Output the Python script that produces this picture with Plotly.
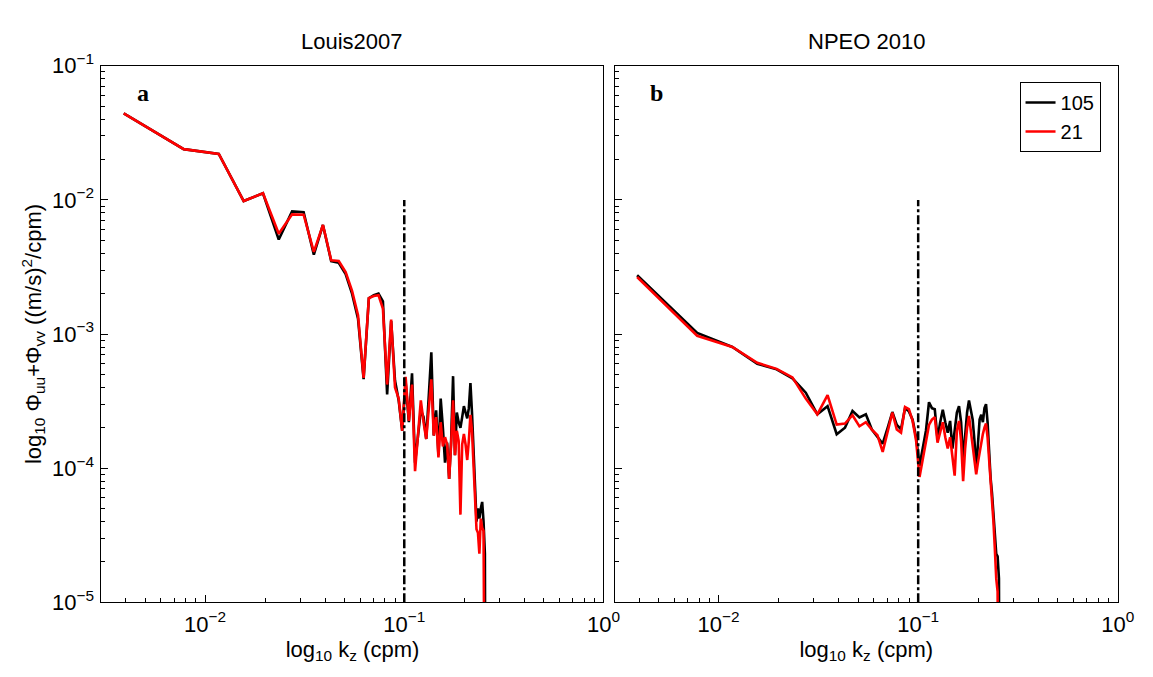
import numpy as np
import plotly.graph_objects as go

# ---------------- data ----------------
dk = 1.0 / 256.0                      # wavenumber bin width (cpm)
kz = [n * dk for n in range(1, 67)]   # wavenumber bins (cpm)

louis_105 = [4.42e-2, 2.39e-2, 2.20e-2, 9.8e-3, 1.12e-2, 5.07e-3, 8.2e-3, 8.1e-3, 3.9e-3, 6.5e-3,
             3.5e-3, 3.4e-3, 2.8e-3, 2.0e-3, 1.30e-3, 4.6e-4, 1.85e-3, 1.95e-3, 2.0e-3, 1.75e-3,
             3.55e-4, 1.25e-3, 4.5e-4, 3.2e-4, 1.9e-4, 4.4e-4, 2.2e-4, 5.1e-4, 1.1e-4, 1.8e-4,
             2.7e-4, 2.4e-4, 1.65e-4, 3.5e-4, 7.3e-4, 1.75e-4, 2.7e-4, 1.25e-4, 3.3e-4, 2.0e-4,
             1.1e-4, 1.55e-4, 8.3e-5, 1.6e-4, 4.85e-4, 1.25e-4, 2.6e-4, 2.2e-4, 2.0e-4, 2.4e-4,
             2.9e-4, 2.6e-4, 2.35e-4, 2.8e-4, 4.3e-4, 2.6e-4, 1.4e-4, 7.0e-5, 4.0e-5, 5.0e-5,
             4.2e-5, 5.0e-5, 5.6e-5, 4.0e-5, 2.3e-5, 1e-8]
louis_21 = [4.42e-2, 2.39e-2, 2.20e-2, 9.8e-3, 1.12e-2, 5.6e-3, 7.8e-3, 7.75e-3, 4.1e-3, 6.5e-3,
            3.55e-3, 3.5e-3, 2.9e-3, 2.1e-3, 1.38e-3, 4.7e-4, 1.85e-3, 1.92e-3, 1.95e-3, 1.55e-3,
            4.2e-4, 1.28e-3, 4.0e-4, 3.3e-4, 1.9e-4, 4.8e-4, 2.25e-4, 4.2e-4, 9.5e-5, 1.8e-4,
            3.2e-4, 2.2e-4, 1.65e-4, 2.8e-4, 4.6e-4, 1.75e-4, 2.4e-4, 1.2e-4, 2.2e-4, 1.45e-4,
            1.7e-4, 1.5e-4, 8.3e-5, 1.5e-4, 3.2e-4, 1.25e-4, 1.9e-4, 1.6e-4, 4.5e-5, 1.5e-4,
            1.8e-4, 1.5e-4, 1.15e-4, 1.6e-4, 2.5e-4, 1.9e-4, 1.1e-4, 6.5e-5, 3.5e-5, 3.3e-5,
            2.3e-5, 4.2e-5, 3.6e-5, 3.4e-5, 1e-8, 1e-8]

npeo_105 = [2.74e-3, 1.02e-3, 8.0e-4, 6.0e-4, 5.45e-4, 4.67e-4, 3.65e-4, 2.52e-4, 2.9e-4, 1.79e-4,
            2.0e-4, 2.67e-4, 2.39e-4, 2.52e-4, 1.94e-4, 1.72e-4, 1.52e-4, 2.0e-4, 2.62e-4, 2.1e-4,
            1.95e-4, 2.8e-4, 2.65e-4, 2.3e-4, 1.7e-4, 1.04e-4, 1.4e-4, 1.9e-4, 3.1e-4, 2.8e-4,
            2.75e-4, 1.65e-4, 2.2e-4, 2.72e-4, 2.2e-4, 1.84e-4, 2.25e-4, 1.4e-4, 1.9e-4, 2.6e-4,
            2.9e-4, 2.2e-4, 1.15e-4, 1.8e-4, 2.6e-4, 3.2e-4, 2.6e-4, 2.3e-4, 1.6e-4, 1.0e-4,
            1.5e-4, 2.3e-4, 2.5e-4, 2.2e-4, 2.8e-4, 3.0e-4, 2.2e-4, 1.3e-4, 8.5e-5, 6.5e-5,
            4.5e-5, 3.3e-5, 2.3e-5, 2.2e-5, 1.5e-5, 1e-8]
npeo_21 = [2.66e-3, 9.7e-4, 8.0e-4, 6.1e-4, 5.5e-4, 4.75e-4, 3.3e-4, 2.52e-4, 3.5e-4, 2.11e-4,
           2.15e-4, 2.48e-4, 2.05e-4, 2.2e-4, 1.94e-4, 1.76e-4, 1.32e-4, 1.9e-4, 2.6e-4, 1.94e-4,
           1.84e-4, 2.85e-4, 2.75e-4, 2.25e-4, 1.6e-4, 8.6e-5, 1.2e-4, 1.6e-4, 2.1e-4, 2.3e-4,
           2.4e-4, 1.55e-4, 1.9e-4, 2.2e-4, 1.7e-4, 1.4e-4, 1.7e-4, 1.2e-4, 8.8e-5, 1.9e-4,
           2.25e-4, 1.6e-4, 8.0e-5, 1.4e-4, 2.0e-4, 2.45e-4, 1.9e-4, 1.5e-4, 1.2e-4, 9.0e-5,
           1.1e-4, 1.3e-4, 1.6e-4, 1.8e-4, 2.0e-4, 2.15e-4, 1.7e-4, 1.2e-4, 8.0e-5, 6.0e-5,
           4.0e-5, 2.5e-5, 1.5e-5, 1.2e-5, 1e-8, 1e-8]

cutoff_k = [0.1, 0.1]        # vertical dash-dot marker at kz = 0.1 cpm
cutoff_phi = [1e-5, 1e-2]

panel_titles = ["Louis2007", "NPEO 2010"]
panel_letters = ["a", "b"]
series_names = ["105", "21"]
series_colors = ["black", "red"]

x_tickvals = [1e-2, 1e-1, 1e0]
x_ticktext = ["10<sup>−2</sup>", "10<sup>−1</sup>", "10<sup>0</sup>"]
y_tickvals = [1e-5, 1e-4, 1e-3, 1e-2, 1e-1]
y_ticktext = ["10<sup>−5</sup>", "10<sup>−4</sup>", "10<sup>−3</sup>", "10<sup>−2</sup>", "10<sup>−1</sup>"]
x_minor = [m * 10.0 ** e for e in (-3, -2, -1) for m in range(2, 10)]
y_minor = [m * 10.0 ** e for e in (-5, -4, -3, -2) for m in range(2, 10)]

# ---------------- figure ----------------
W, H = 1153, 677
fig = go.Figure()

panels = [("x", "y", louis_105, louis_21), ("x2", "y2", npeo_105, npeo_21)]
for i, (xa, ya, s105, s21) in enumerate(panels):
    for j, s in enumerate([s105, s21]):
        fig.add_trace(go.Scatter(
            x=kz, y=s, mode="lines", name=series_names[j],
            line=dict(color=series_colors[j], width=2.6),
            xaxis=xa, yaxis=ya, showlegend=(i == 1), legendgroup=series_names[j]))
    fig.add_trace(go.Scatter(
        x=cutoff_k, y=cutoff_phi, mode="lines",
        line=dict(color="black", width=2.5, dash="dashdot"),
        xaxis=xa, yaxis=ya, showlegend=False, hoverinfo="skip"))

FONT = "Liberation Sans, Arial, Helvetica, sans-serif"
tickfont = dict(family=FONT, size=22, color="black")
labfont = dict(family=FONT, size=22, color="black")

x1 = [103 / W, 612.5 / W]
x2 = [624 / W, 1134.5 / W]
yd = [1 - 612.5 / H, 1 - 52 / H]
XR = [-2.52, 0]
YR = [-5, -1]

def base_ticks(vals, text, minor_vals, labels):
    return dict(showline=True, linecolor="black", linewidth=1, mirror=True,
                ticks="inside", ticklen=7, tickcolor="black", tickwidth=1,
                tickmode="array", tickvals=vals, ticktext=text,
                showgrid=False, zeroline=False, showticklabels=labels,
                minor=dict(ticks="inside", ticklen=4, tickcolor="black", tickwidth=1,
                           tickmode="array", tickvals=minor_vals, showgrid=False),
                tickfont=tickfont)

def xaxis(dom, anchor):
    d = dict(type="log", range=XR, domain=dom, anchor=anchor)
    d.update(base_ticks(x_tickvals, x_ticktext, x_minor, True))
    d["ticklabelstandoff"] = 2
    d["title"] = dict(text="log<sub>10</sub> k<sub>z</sub> (cpm)", font=labfont, standoff=0)
    return d

def yaxis(anchor, labels):
    d = dict(type="log", range=YR, domain=yd, anchor=anchor)
    d.update(base_ticks(y_tickvals, y_ticktext, y_minor, labels))
    if labels:
        d["ticklabelstandoff"] = 2
        d["title"] = dict(text="log<sub>10</sub> Φ<sub>uu</sub>+Φ<sub>vv</sub> ((m/s)<sup>2</sup>/cpm)",
                          font=labfont, standoff=4)
    return d

def xtop(dom, overlay, anchor):
    d = dict(type="log", range=XR, domain=dom, anchor=anchor, overlaying=overlay, side="top")
    d.update(base_ticks(x_tickvals, x_ticktext, x_minor, False))
    return d

def yright(overlay, anchor):
    d = dict(type="log", range=YR, domain=yd, anchor=anchor, overlaying=overlay, side="right")
    d.update(base_ticks(y_tickvals, y_ticktext, y_minor, False))
    return d

annotations = []
for dom, t, letter in [(x1, panel_titles[0], panel_letters[0]), (x2, panel_titles[1], panel_letters[1])]:
    annotations.append(dict(text=t, x=(dom[0] + dom[1]) / 2, y=1 - 27 / H, xref="paper", yref="paper",
                            showarrow=False, xanchor="center", yanchor="middle", font=labfont))
    annotations.append(dict(text="<b>%s</b>" % letter, x=dom[0] + 42 / W, y=1 - 80 / H,
                            xref="paper", yref="paper", showarrow=False,
                            xanchor="center", yanchor="middle",
                            font=dict(family="Liberation Serif, Times New Roman, serif", size=24, color="black")))

fig.update_layout(
    width=W, height=H, margin=dict(l=0, r=0, t=0, b=0),
    paper_bgcolor="white", plot_bgcolor="white",
    xaxis=xaxis(x1, "y"), yaxis=yaxis("x", True),
    xaxis2=xaxis(x2, "y2"), yaxis2=yaxis("x2", False),
    xaxis3=xtop(x1, "x", "y"), yaxis3=yright("y", "x"),
    xaxis4=xtop(x2, "x2", "y2"), yaxis4=yright("y2", "x2"),
    annotations=annotations,
    showlegend=True,
    legend=dict(x=1117 / W, y=1 - 69 / H, xanchor="right", yanchor="top",
                bordercolor="black", borderwidth=1, bgcolor="white",
                font=dict(family=FONT, size=20, color="black"),
                tracegroupgap=0, itemwidth=30),
)

fig.write_html("out.html")
